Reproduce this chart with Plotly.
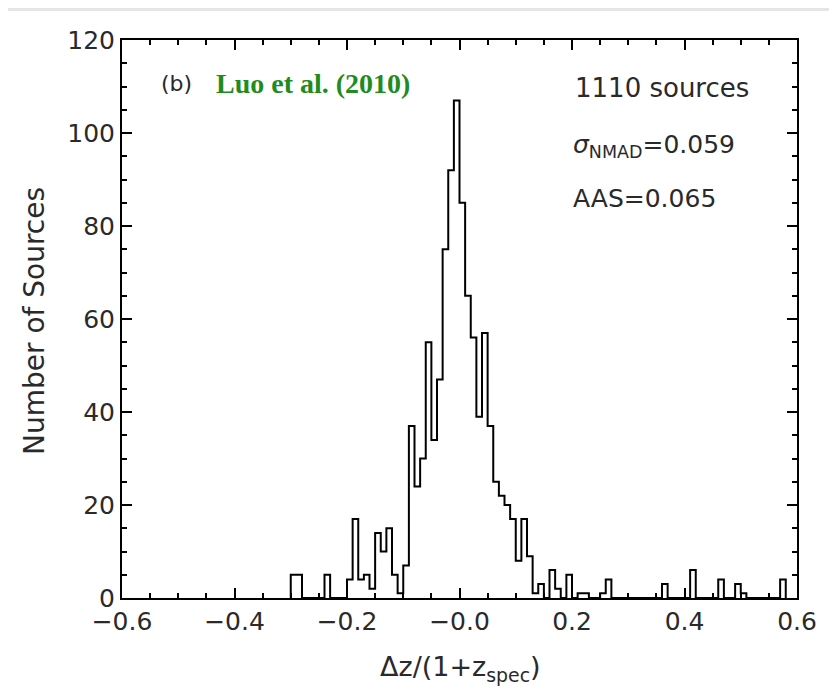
import numpy as np
import plotly.graph_objects as go

# histogram of dz/(1+z_spec), bins of 0.01 starting at -0.30
hist_start = -0.30
bin_width = 0.01
counts = [5, 5, 0, 0, 0, 0, 5, 0, 0, 0,          # -0.30 .. -0.21
          4, 17, 4, 5, 2, 14, 10, 15, 5, 1,      # -0.20 .. -0.11
          7, 37, 24, 30, 55, 34, 47, 75, 92, 107,  # -0.10 .. -0.01
          85, 65, 56, 39, 57, 37, 25, 22, 20, 17,  # 0.00 .. 0.09
          8, 17, 9, 1, 3, 0, 6, 2, 0, 5,         # 0.10 .. 0.19
          0, 1, 1, 0, 0, 1, 4, 0, 0, 0,          # 0.20 .. 0.29
          0, 0, 0, 0, 0, 0, 3, 0, 0, 0,          # 0.30 .. 0.39
          0, 6, 0, 0, 0, 0, 4, 0, 0, 3,          # 0.40 .. 0.49
          1, 0, 0, 0, 0, 0, 0, 4]                # 0.50 .. 0.57

x_tickvals = [-0.6, -0.4, -0.2, 0.0, 0.2, 0.4, 0.6]
x_ticktext = ["\u22120.6", "\u22120.4", "\u22120.2", "\u22120.0", "0.2", "0.4", "0.6"]
y_tickvals = [0, 20, 40, 60, 80, 100, 120]

edges = hist_start + bin_width * np.arange(len(counts) + 1)
xs = [edges[0]] + list(edges) + [edges[-1]]
ys = [0] + counts + [counts[-1]] + [0]

FONT = "DejaVu Sans, sans-serif"
INK = "#2a2a2a"

fig = go.Figure()
fig.add_trace(go.Scatter(
    x=xs, y=ys, mode="lines",
    line=dict(color="black", width=2, shape="hv"),
    hoverinfo="skip", showlegend=False,
))

axis_common = dict(
    showline=True, linecolor="black", linewidth=2, mirror="ticks",
    ticks="inside", ticklen=10, tickwidth=1.5, tickcolor="black",
    showgrid=False, zeroline=False,
    tickfont=dict(family=FONT, size=25, color=INK),
)

fig.update_xaxes(
    range=[-0.6, 0.6], tickvals=x_tickvals, ticktext=x_ticktext,
    minor=dict(dtick=0.05, ticks="inside", ticklen=5, tickwidth=1.5, tickcolor="black"),
    **axis_common,
)
fig.update_yaxes(
    range=[0, 120], tickvals=y_tickvals,
    minor=dict(dtick=5, ticks="inside", ticklen=5, tickwidth=1.5, tickcolor="black"),
    **axis_common,
)

# page pixels -> paper coordinates (plot area spans x 122..797, y 40..598 on the page)
def px_x(p):
    return (p - 122) / 675

def px_y(p):
    return (598 - p) / 558

# light grey frame strips
grey = "#e5e5e5"
fig.add_shape(type="rect", xref="paper", yref="paper",
              x0=px_x(829), x1=px_x(850), y0=px_y(720), y1=px_y(0),
              fillcolor=grey, line=dict(width=0), layer="below")
fig.add_shape(type="rect", xref="paper", yref="paper",
              x0=px_x(0), x1=px_x(850), y0=px_y(11), y1=px_y(0),
              fillcolor=grey, line=dict(width=0), layer="below")


def note(x, y, text, size, xanchor="left", angle=0, family=FONT, color=INK):
    fig.add_annotation(x=px_x(x), y=px_y(y), xref="paper", yref="paper",
                       xanchor=xanchor, yanchor="middle", textangle=angle,
                       text=text, showarrow=False,
                       font=dict(family=family, size=size, color=color))


note(176, 84, "(b)", 22, xanchor="center")
note(214, 83, "<b>Luo et al. (2010)</b>", 28,
     family="Liberation Serif, DejaVu Serif, serif", color="#1e8c1e")
note(573, 88, "1110 sources", 26)
note(571, 146, "<i>\u03c3</i><sub>NMAD</sub>=0.059", 25)
note(571, 198, "AAS=0.065", 25)
note(460, 668, "\u0394z/(1+z<sub>spec</sub>)", 27, xanchor="center")
note(35, 321, "Number of Sources", 28, xanchor="center", angle=-90)

fig.update_layout(
    width=829, height=691,
    margin=dict(l=114, r=40, t=32, b=101),
    paper_bgcolor="white", plot_bgcolor="white",
    showlegend=False,
)

fig.write_html("out.html")
